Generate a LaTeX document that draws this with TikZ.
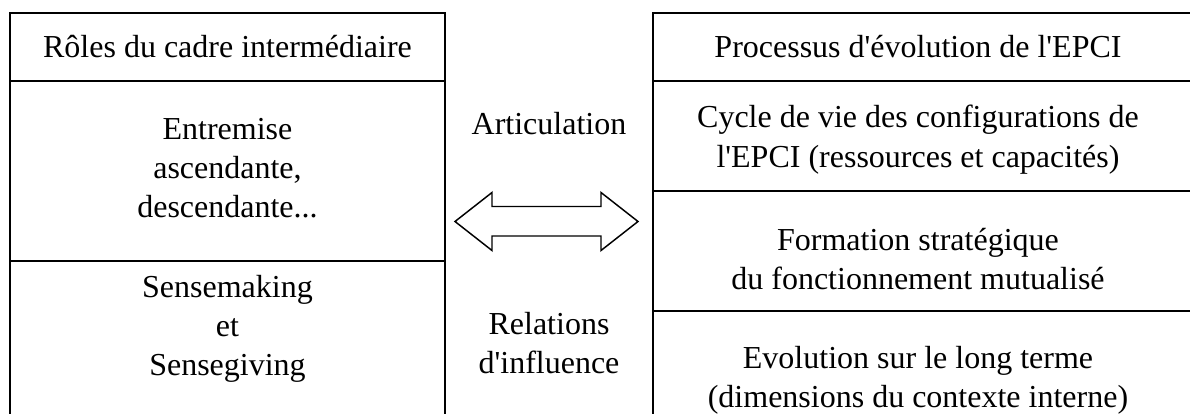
\documentclass[tikz,border=0pt]{standalone}
\usepackage{fontspec}
\setmainfont{Liberation Serif}
\newcommand\sq{\textquotesingle}
\begin{document}
\begin{tikzpicture}[x=0.75pt,y=-0.75pt,
  box/.style={draw=black,line width=1.1pt},
  txt/.style={align=center,font=\fontsize{24}{29.5}\selectfont,inner sep=0pt},
  arr/.style={draw=black,line width=1.1pt,line join=miter,fill=white}]
\clip (0,0) rectangle (1190,414);
\fill[white] (0,0) rectangle (1190,414);
% left column
\draw[box] (10,13) rectangle (445,430);
\draw[box] (10,81) -- (445,81);
\draw[box] (10,261) -- (445,261);
% right column
\draw[box] (653,13) rectangle (1200,430);
\draw[box] (653,81) -- (1200,81);
\draw[box] (653,191) -- (1200,191);
\draw[box] (653,311) -- (1200,311);
% texts
\node[txt] (l0) at (227.5,47) {Rôles du cadre intermédiaire};
\node[txt] (l1) at (227.5,168) {Entremise\\ascendante,\\descendante...};
\node[txt] (l2) at (227.5,329) {Sensemaking\\et\\Sensegiving};
\node[txt] (r0) at (918,47) {Processus d\sq évolution de l\sq EPCI};
\node[txt] (r1) at (918,139.5) {Cycle de vie des configurations de\\l\sq EPCI (ressources et capacités)};
\node[txt] (r2) at (918,259) {Formation stratégique\\du fonctionnement mutualisé};
\node[txt] (r3) at (918,380.5) {Evolution sur le long terme\\(dimensions du contexte interne)};
\node[txt] (m1) at (549,124) {Articulation};
\node[txt] (m2) at (549,343) {Relations\\d\sq influence};
% double arrow
\draw[arr] (455,221.5) -- (492,192.5) -- (492,206.5) -- (601,206.5) -- (601,192.5)
  -- (638,221.5) -- (601,250.5) -- (601,236) -- (492,236) -- (492,250.5) -- cycle;
\end{tikzpicture}
\end{document}
